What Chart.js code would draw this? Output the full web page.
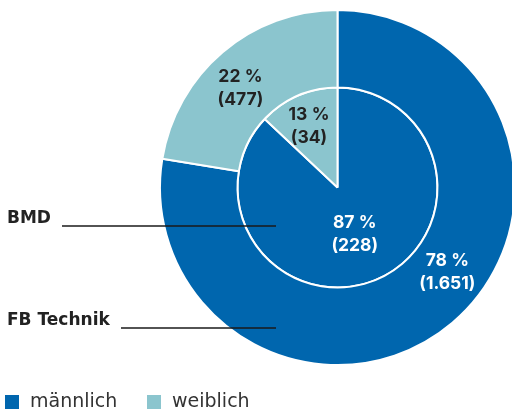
<!DOCTYPE html>
<html>
<head>
<meta charset="utf-8">
<script src="https://cdn.jsdelivr.net/npm/chart.js@4"></script>
<style>
  html, body { margin: 0; padding: 0; background: #fff; overflow: hidden; }
  #c { display: block; }
</style>
</head>
<body>
<canvas id="c" width="520" height="411"></canvas>
<script>
// Geschlechterverteilung: FB Technik (aussen) vs. BMD (innen)
const categories = ['männlich', 'weiblich'];
const groups = ['FB Technik', 'BMD'];
const fbTechnikCount = [1651, 477];
const fbTechnikPct = [78, 22];
const bmdCount = [228, 34];
const bmdPct = [87, 13];

const COLOURS = ['#0066ae', '#8bc5ce'];
const TEXT_ON = ['#ffffff', '#222222'];
const FONT = '"DejaVu Sans", sans-serif';
const NUM_FONT = 'Inter, "Noto Sans", sans-serif';

// where each label sits: t = fraction along the arc, r = fraction of ring (0 inner, 1 outer)
const labelPlacement = [
  [{ t: 0.457, r: 0.5 }, { t: 0.45, r: 0.5 }],
  [{ t: 0.51, r: 0.5 }, { t: 0.47, r: 0.68 }],
];
// leader line y and start x for each ring
const ringLabels = [
  { y: 328, lineFrom: 121 },
  { y: 226, lineFrom: 62 },
];

const fmt = (n) => n.toLocaleString('de-DE');

const sliceLabels = {
  id: 'sliceLabels',
  afterDatasetsDraw(chart) {
    const ctx = chart.ctx;
    ctx.save();
    ctx.textAlign = 'center';
    ctx.textBaseline = 'middle';
    ctx.font = `bold 17.5px ${NUM_FONT}`;
    chart.data.datasets.forEach((ds, di) => {
      const meta = chart.getDatasetMeta(di);
      meta.data.forEach((arc, i) => {
        const p = labelPlacement[di][i];
        const a = arc.startAngle + (arc.endAngle - arc.startAngle) * p.t;
        const r = arc.innerRadius + (arc.outerRadius - arc.innerRadius) * p.r;
        const x = arc.x + Math.cos(a) * r;
        const y = arc.y + Math.sin(a) * r;
        ctx.fillStyle = TEXT_ON[i];
        ctx.fillText(`${ds.pct[i]}\u2005%`, x, y - 11.5);
        ctx.fillText(`(${fmt(ds.data[i])})`, x, y + 11.5);
      });
    });
    ctx.restore();
  },
  afterDraw(chart) {
    const ctx = chart.ctx;
    ctx.save();
    // ring names with leader lines
    ctx.textBaseline = 'middle';
    ctx.textAlign = 'left';
    ctx.font = `bold 17px ${FONT}`;
    chart.data.datasets.forEach((ds, di) => {
      const rl = ringLabels[di];
      ctx.fillStyle = '#222222';
      ctx.fillText(ds.label, 7, rl.y - 7);
      ctx.strokeStyle = '#1a1a1a';
      ctx.lineWidth = 1.5;
      ctx.beginPath();
      ctx.moveTo(rl.lineFrom, rl.y);
      ctx.lineTo(276, rl.y);
      ctx.stroke();
    });
    // legend
    ctx.font = `19px ${FONT}`;
    let x = 5;
    chart.data.labels.forEach((lab, i) => {
      ctx.fillStyle = COLOURS[i];
      ctx.fillRect(x, 395, 14, 14);
      ctx.fillStyle = '#333333';
      ctx.fillText(lab, x + 25, 402);
      x += 142;
    });
    ctx.restore();
  },
};

new Chart(document.getElementById('c'), {
  type: 'doughnut',
  data: {
    labels: categories,
    datasets: [
      {
        label: groups[0],
        data: fbTechnikCount,
        pct: fbTechnikPct,
        backgroundColor: COLOURS,
        borderColor: '#ffffff',
        borderWidth: 2,
        weight: 77.5,
      },
      {
        label: groups[1],
        data: bmdCount,
        pct: bmdPct,
        backgroundColor: COLOURS,
        borderColor: '#ffffff',
        borderWidth: 2,
        weight: 100,
      },
    ],
  },
  options: {
    responsive: false,
    animation: false,
    cutout: 0,
    layout: { padding: { left: 159, top: 9, right: 4, bottom: 45 } },
    plugins: {
      legend: { display: false },
      tooltip: { enabled: false },
    },
  },
  plugins: [sliceLabels],
});
</script>
</body>
</html>
